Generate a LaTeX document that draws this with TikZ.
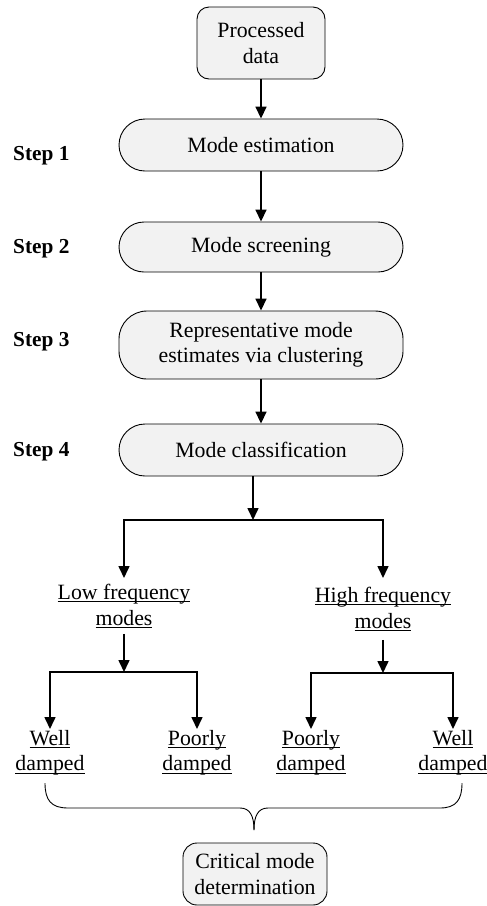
\documentclass[tikz,border=0pt]{standalone}
\usepackage{fontspec}
\setmainfont{Liberation Serif}
\usetikzlibrary{arrows.meta}
\definecolor{boxgray}{HTML}{F2F2F2}
\newcommand{\uln}[1]{\setbox0\hbox{#1}\rlap{\rule[-2.6pt]{\wd0}{0.9pt}}\box0}
\begin{document}
\begin{tikzpicture}[x=1pt,y=-1pt,
  txt/.style={font=\fontsize{21.8}{25.5}\selectfont},
  box/.style={txt, draw=black, line width=0.9pt, fill=boxgray, minimum width=284pt, inner sep=0pt, align=center},
  stadium/.style={box, rounded corners=26pt, minimum height=52pt},
  steplbl/.style={font=\fontsize{21.3}{25}\selectfont\bfseries, anchor=base west, inner sep=0pt},
  lbl/.style={txt, align=center, inner xsep=0pt, inner ysep=1pt, anchor=north},
  arr/.style={line width=1.6pt, -{Triangle[length=12pt,width=11pt]}},
  brace/.style={line width=0.9pt}
]
\useasboundingbox (0,0) rectangle (487,906);

% main chain
\node[box, rounded corners=12pt, minimum width=128pt, minimum height=72pt] (pd) at (261,43) {Processed\\data};
\node[stadium] (me) at (261,145) {Mode estimation};
\node[stadium, minimum height=50pt, rounded corners=25pt] (ms) at (261,247) {Mode screening};
\node[box, rounded corners=28pt, minimum height=68pt] (rm) at (261,345) {Representative mode\\estimates via clustering};
\node[stadium] (mc) at (261,450) {Mode classification};

% step labels
\node[steplbl] (s1) at (13,160) {Step 1};
\node[steplbl] (s2) at (13,253) {Step 2};
\node[steplbl] (s3) at (13,346) {Step 3};
\node[steplbl] (s4) at (13,456) {Step 4};

\draw[arr] (pd) -- (me);
\draw[arr] (me) -- (ms);
\draw[arr] (ms) -- (rm);
\draw[arr] (rm) -- (mc);

% first split
\coordinate (j1) at (253,520);
\node[lbl, inner ysep=6pt] (low) at (124,578) {\uln{Low frequency}\\\uln{modes}};
\node[lbl, inner ysep=9pt] (high) at (383,578) {\uln{High frequency}\\\uln{modes}};
\draw[arr] (mc.south -| j1) -- (j1);
\draw[arr] (j1) -| (low.north);
\draw[arr] (j1) -| (high.north);

% second split
\coordinate (j2) at (124,672);
\coordinate (j3) at (383,673);
\node[lbl] (wd1) at (50,729) {\uln{Well}\\\uln{damped}};
\node[lbl] (pd1) at (197,729) {\uln{Poorly}\\\uln{damped}};
\node[lbl] (pd2) at (311,729) {\uln{Poorly}\\\uln{damped}};
\node[lbl] (wd2) at (453,729) {\uln{Well}\\\uln{damped}};
\draw[arr] (low.south) -- (j2);
\draw[arr] (high.south) -- (j3);
\draw[arr] (j2) -| (wd1.north);
\draw[arr] (j2) -| (pd1.north);
\draw[arr] (j3) -| (pd2.north);
\draw[arr] (j3) -| (wd2.north);

% brace
\coordinate (bl) at (45,783);
\coordinate (br) at (462,783);
\coordinate (bt) at (254,830);
\draw[brace] (bl) .. controls (45,800) and (51,808) .. (68,808) -- (240,808) .. controls (250,808) and (254,816) .. (bt);
\draw[brace] (br) .. controls (462,800) and (456,808) .. (440,808) -- (268,808) .. controls (258,808) and (254,816) .. (bt);

\node[box, rounded corners=14pt, minimum width=144pt, minimum height=62pt] (cm) at (255,874) {Critical mode\\determination};
\end{tikzpicture}
\end{document}
